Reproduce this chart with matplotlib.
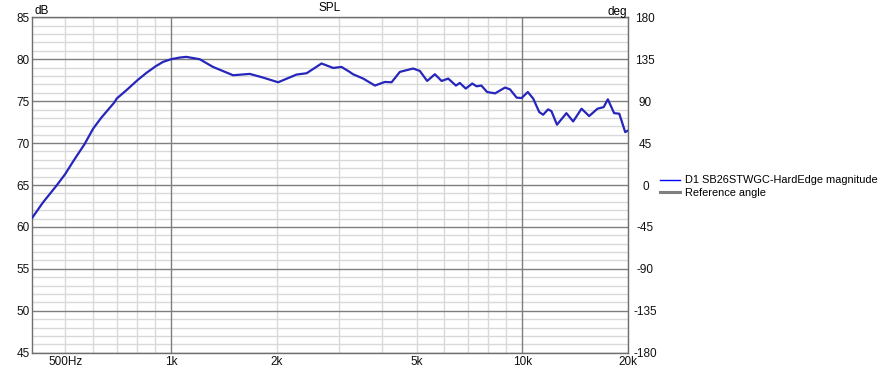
import numpy as np
import matplotlib
matplotlib.use("Agg")
import matplotlib.pyplot as plt
from matplotlib.lines import Line2D
from matplotlib.ticker import FixedLocator, NullFormatter

## data ##

freq_hz = [402, 432, 472, 500, 526, 568, 600, 633, 691, 700, 746, 802, 851, 905,
           949, 1000, 1059, 1106, 1207,
           1317, 1502, 1676, 1829, 2018, 2277, 2433, 2682, 2895, 3058, 3225,
           3297, 3525, 3806, 4062, 4246, 4482, 4889, 5108, 5361, 5639, 5893,
           6155, 6474, 6640, 6905, 7204, 7412, 7647, 7942, 8366, 8932, 9225,
           9638, 9956, 10370, 10745, 11178, 11465, 11844, 12106, 12556, 13355,
           13959, 14749, 15504, 16374, 17056, 17522, 18261, 18890, 19640, 20000]
spl_db = [61.05, 62.92, 64.92, 66.32, 67.79, 69.91, 71.71, 73.02, 74.89, 75.30,
          76.29, 77.49, 78.37, 79.17, 79.68, 80.00,
          80.20, 80.28, 80.00, 79.08, 78.09, 78.25, 77.81, 77.25, 78.17, 78.33,
          79.49, 78.96, 79.08, 78.49, 78.21, 77.69, 76.86, 77.29, 77.25, 78.49,
          78.89, 78.61, 77.41, 78.21, 77.41, 77.69, 76.86, 77.17, 76.50, 77.10,
          76.77, 76.86, 76.09, 75.93, 76.62, 76.41, 75.42, 75.37, 76.09, 75.30,
          73.70, 73.38, 74.02, 73.81, 72.19, 73.57, 72.58, 74.10, 73.22, 74.10,
          74.29, 75.22, 73.57, 73.50, 71.30, 71.50]

x_major = [1000, 10000]
x_minor = [500, 600, 700, 800, 900, 2000, 3000, 4000, 5000, 6000, 7000, 8000, 9000, 20000]
x_labels = {500: "500Hz", 1000: "1k", 2000: "2k", 5000: "5k", 10000: "10k", 20000: "20k"}
db_ticks = [45, 50, 55, 60, 65, 70, 75, 80, 85]
deg_ticks = [-180, -135, -90, -45, 0, 45, 90, 135, 180]

series_label = "D1 SB26STWGC-HardEdge magnitude"
ref_label = "Reference angle"

## plot ##

plt.rcParams['font.family'] = ['Liberation Sans', 'DejaVu Sans']
plt.rcParams['font.size'] = 8.5

W, H = 889, 371
fig = plt.figure(figsize=(W / 100, H / 100), dpi=100)
L, R, T, B = 32, 628, 17.3, 352.7
ax = fig.add_axes([L / W, 1 - B / H, (R - L) / W, (B - T) / H])
AH = B - T

ax.set_xscale('log')
ax.set_xlim(402, 20000)
ax.set_ylim(45, 85)

# light grid from the minor locators, dark lines drawn on top of it
ax.xaxis.set_major_locator(FixedLocator(x_major))
ax.xaxis.set_minor_locator(FixedLocator(x_minor))
ax.yaxis.set_minor_locator(FixedLocator(np.arange(45, 86, 1)))
ax.grid(which='minor', color='#d9d9d9', lw=1.0)
ax.set_axisbelow(True)
for f in x_major:
    ax.axvline(f, color='#7f7f7f', lw=1.0, zorder=1)
for d in db_ticks:
    ax.axhline(d, color='#7f7f7f', lw=1.0, zorder=1)

ax.xaxis.set_major_formatter(NullFormatter())
ax.xaxis.set_minor_formatter(NullFormatter())
for f, s in x_labels.items():
    ax.text(f, -9.5 / AH, s, transform=ax.get_xaxis_transform(), ha='center', va='center',
            fontsize=8.5, color='#111111')

ax.set_yticks(db_ticks)
ax.set_yticklabels([str(v) for v in db_ticks])
ax.tick_params(axis='both', which='both', length=0, colors='#111111', labelsize=8.5)
ax.tick_params(axis='y', pad=1.5)

for sp in ax.spines.values():
    sp.set_color('#6e6e6e')
    sp.set_linewidth(1.0)
    sp.set_zorder(2)

ax2 = ax.twinx()
ax2.set_ylim(-180, 180)
ax2.set_yticks(deg_ticks)
ax2.set_yticklabels([str(v) for v in deg_ticks])
ax2.tick_params(axis='y', length=0, colors='#111111', labelsize=8.5, pad=12.5)
for lab in ax2.get_yticklabels():
    lab.set_horizontalalignment('center')
for sp in ax2.spines.values():
    sp.set_visible(False)

ax.plot(freq_hz, spl_db, color='#2626bc', lw=1.6, solid_joinstyle='round',
        solid_capstyle='round', zorder=5)

ax.text(0.005, 1 + 6 / AH, "dB", transform=ax.transAxes, ha='left', va='center', fontsize=8.5)
ax.text(0.998, 1 + 5 / AH, "deg", transform=ax.transAxes, ha='right', va='center', fontsize=8.5)
ax.text(0.5, 1 + 9 / AH, "SPL", transform=ax.transAxes, ha='center', va='center', fontsize=8.5)

handles = [Line2D([], [], color='#0000ff', lw=1.0),
           Line2D([], [], color='#808080', lw=2.2)]
fig.legend(handles, [series_label, ref_label], loc='upper left',
           bbox_to_anchor=(655 / W, 1 - 170 / H), frameon=False, fontsize=7.9,
           handlelength=1.8, handletextpad=0.45, labelspacing=0.25, borderpad=0)

fig.savefig('out.png', dpi=100)
